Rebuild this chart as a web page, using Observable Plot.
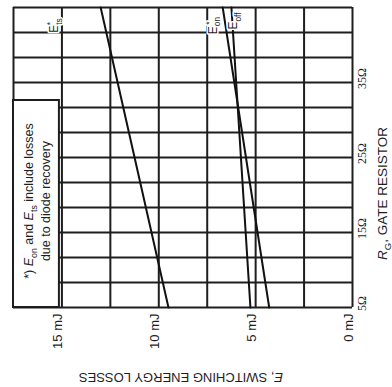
<!DOCTYPE html>
<html><head><meta charset="utf-8">
<script src="https://cdn.jsdelivr.net/npm/d3@7"></script>
<script src="https://cdn.jsdelivr.net/npm/@observablehq/plot@0.6"></script>
<style>
body{margin:0;background:#fff}
#chart{width:392px;height:387px}
</style>
</head><body><div id="chart"></div>
<script>
// ---- data ----
const gateResistance = [5, 45];          // R_G, ohm
const energyTs  = [9.5, 13.0];           // E_ts*, mJ
const energyOn  = [4.3, 6.7];            // E_on*, mJ
const energyOff = [5.27, 6.25];          // E_off, mJ
const seriesNames = ["Ets*", "Eon*", "Eoff"];
const energyTicks = [0, 5, 10, 15];
const energyGrid = [0, 2.5, 5, 7.5, 10, 12.5, 15, 17.5];
const resistorTicks = [5, 15, 25, 35];
const resistorGrid = [5, 8.33, 11.67, 15, 18.33, 21.67, 25, 28.33, 31.67, 35, 38.33, 41.67, 45];

// ---- table for the library ----
const seriesValues = [energyTs, energyOn, energyOff];
const rows = [];
seriesNames.forEach((s, i) => gateResistance.forEach((rg, j) => rows.push({series: s, rg, e: seriesValues[i][j]})));

// ---- annotation placement (not data) ----
const lineLabels = [
  {key: "Ets*", e: 15.38, rg: 42.6},
  {key: "Eon*", e: 7.2, rg: 42.6},
  {key: "Eoff", e: 6.15, rg: 43.2}
];
const noteBox = {x1: 17.5, x2: 15.13, y1: 5, y2: 32.6};
const noteLines = [{key: "NOTE1", e: 16.68, rg: 19.2}, {key: "NOTE2", e: 15.8, rg: 19.2}];

const sans = "'Liberation Sans', Arial, Helvetica, sans-serif";
const serif = "'Liberation Serif', 'Times New Roman', serif";
const ink = "#1e1e1e";

const svg = Plot.plot({
  width: 392, height: 387,
  marginLeft: 13, marginRight: 40, marginTop: 7, marginBottom: 80,
  x: {domain: [0, 17.5], reverse: true, axis: null},
  y: {domain: [5, 45], axis: null},
  style: {fontFamily: sans, background: "white", color: ink},
  marks: [
    Plot.ruleX(energyGrid, {stroke: ink, strokeWidth: 2}),
    Plot.ruleY(resistorGrid, {stroke: ink, strokeWidth: 2}),
    Plot.line(rows, {x: "e", y: "rg", z: "series", stroke: "#111", strokeWidth: 2}),
    Plot.rect([noteBox], {x1: "x1", x2: "x2", y1: "y1", y2: "y2", fill: "white", stroke: ink, strokeWidth: 2}),
    Plot.text(noteLines, {x: "e", y: "rg", text: "key", rotate: -90, fontSize: 12.5, fill: ink}),
    Plot.text(lineLabels, {x: "e", y: "rg", text: "key", rotate: -90, fontSize: 12, fill: ink,
      stroke: "white", strokeWidth: 3, paintOrder: "stroke"}),
    // energy tick labels
    Plot.text(energyTicks, {x: d => d, frameAnchor: "bottom", dy: 6, rotate: -90, textAnchor: "end",
      text: d => `${d} mJ`, fontSize: 13, fill: ink}),
    // resistor tick labels
    Plot.text(resistorTicks, {y: d => d, frameAnchor: "right", dx: 10, dy: -4, rotate: -90, textAnchor: "middle",
      text: d => `${d}Ω`, fontSize: 12, fontFamily: serif, fill: ink}),
    // axis titles
    Plot.text(["ETITLE"], {frameAnchor: "bottom", dx: -2, dy: 65, rotate: 180, textAnchor: "middle", text: d => d, fontSize: 13, fill: ink}),
    Plot.text(["RTITLE"], {frameAnchor: "right", dx: 30, dy: 36, rotate: -90, textAnchor: "middle", text: d => d, fontSize: 13.5, fill: ink})
  ]
});

// ---- rich text (subscripts / italics) ----
const rich = {
  "Ets*": {fs: 12, segs: [{t: "E"}, {t: "ts", sub: true}, {t: "*", sup: true, dx: -7}]},
  "Eon*": {fs: 12, segs: [{t: "E"}, {t: "on", sub: true}, {t: "*", sup: true, dx: -8}]},
  "Eoff": {fs: 12, segs: [{t: "E"}, {t: "off", sub: true}]},
  "NOTE1": {fs: 12.5, segs: [{t: "*) "}, {t: "E", it: true}, {t: "on", sub: true}, {t: " and "}, {t: "E", it: true}, {t: "ts", sub: true}, {t: " include losses"}]},
  "NOTE2": {fs: 12.5, segs: [{t: "due to diode recovery"}]},
  "ETITLE": {fs: 13, segs: [{t: "E", it: true}, {t: ", SWITCHING ENERGY LOSSES"}]},
  "RTITLE": {fs: 13.5, segs: [{t: "R", it: true}, {t: "G", sub: true}, {t: ", GATE RESISTOR"}]}
};
const NS = "http://www.w3.org/2000/svg";
svg.querySelectorAll("text").forEach(el => {
  const spec = rich[el.textContent];
  if (!spec) return;
  el.textContent = "";
  let cur = 0;
  spec.segs.forEach(s => {
    const ts = document.createElementNS(NS, "tspan");
    ts.textContent = s.t;
    const shift = s.sub ? spec.fs * 0.3 : s.sup ? -spec.fs * 0.42 : 0;
    ts.setAttribute("dy", shift - cur);
    cur = shift;
    if (s.sub || s.sup) ts.setAttribute("font-size", spec.fs * 0.7);
    if (s.it) ts.setAttribute("font-style", "italic");
    if (s.dx) ts.setAttribute("dx", s.dx);
    el.appendChild(ts);
  });
});
document.getElementById("chart").appendChild(svg);
</script>
</body></html>
